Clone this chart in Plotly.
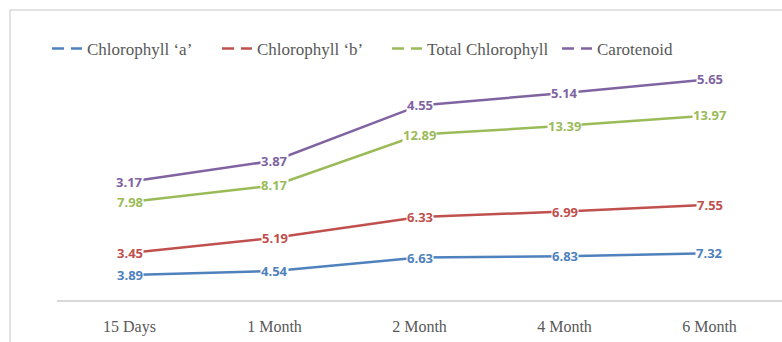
import numpy as np
import plotly.graph_objects as go

# Sampling stages
stages = ["15 Days", "1 Month", "2 Month", "4 Month", "6 Month"]

# Pigment content per stage
chl_a = [3.89, 4.54, 6.63, 6.83, 7.32]
chl_b = [3.45, 5.19, 6.33, 6.99, 7.55]
total_chl = [7.98, 8.17, 12.89, 13.39, 13.97]
carotenoid = [3.17, 3.87, 4.55, 5.14, 5.65]

series_names = ["Chlorophyll \u2018a\u2019", "Chlorophyll \u2018b\u2019",
                "Total Chlorophyll", "Carotenoid"]
series_values = [chl_a, chl_b, total_chl, carotenoid]
colors = ["#4F81BD", "#C0504D", "#9BBB59", "#8064A2"]

W, H = 782, 342
ML, MR, MT, MB = 57, 0, 44, 42
plot_w = W - ML - MR
plot_h = H - MT - MB

SERIF = "Liberation Serif"

fig = go.Figure()

# Stacked lines (no fill)
for name, vals, col in zip(series_names, series_values, colors):
    fig.add_trace(go.Scatter(
        x=stages, y=vals, name=name, mode="lines",
        stackgroup="pigments", fill="none",
        line=dict(color=col, width=2.5),
        showlegend=False, hoverinfo="skip",
    ))

# Dashed legend entries
for name, col in zip(series_names, colors):
    fig.add_trace(go.Scatter(
        x=[None], y=[None], name=name, mode="lines",
        line=dict(color=col, width=2.5, dash="12px,7px"),
        showlegend=True,
    ))

# Value labels sitting on the stacked points
cum = np.cumsum(np.array(series_values), axis=0)
annotations = []
for vals, cvals, col in zip(series_values, cum, colors):
    for st, v, c in zip(stages, vals, cvals):
        annotations.append(dict(
            x=st, y=float(c), xref="x", yref="y", text=f"{v:.2f}",
            showarrow=False, bgcolor="white", borderpad=0,
            font=dict(family="Open Sans", size=13, color=col, weight=700),
            xanchor="center", yanchor="middle",
        ))

# Outer chart frame (extends past the visible area on right and bottom)
shapes = [dict(
    type="rect", xref="paper", yref="paper",
    x0=(10 - ML) / plot_w, x1=1.05,
    y0=-0.5, y1=(H - MB - 10) / plot_h,
    line=dict(color="#D9D9D9", width=1.5), layer="below",
)]

fig.update_layout(
    width=W, height=H,
    margin=dict(l=ML, r=MR, t=MT, b=MB, autoexpand=False),
    paper_bgcolor="white", plot_bgcolor="white",
    font=dict(family=SERIF, size=17, color="#595959"),
    showlegend=True,
    legend=dict(
        orientation="h", xref="container", yref="container",
        x=47 / W, xanchor="left",
        y=1 - 49 / H, yanchor="middle",
        font=dict(family=SERIF, size=17, color="#595959"),
        bgcolor="rgba(0,0,0,0)", itemwidth=30, tracegroupgap=0,
        entrywidth=125, entrywidthmode="pixels",
    ),
    xaxis=dict(
        range=[-0.5, 4.5], showgrid=False, zeroline=False,
        showline=True, linecolor="#D9D9D9", linewidth=1.5,
        ticks="", ticklabelstandoff=11,
        tickfont=dict(family=SERIF, size=16, color="#595959"),
    ),
    yaxis=dict(range=[0, 40], visible=False, showgrid=False, zeroline=False),
    annotations=annotations,
    shapes=shapes,
)

fig.write_html("out.html")
